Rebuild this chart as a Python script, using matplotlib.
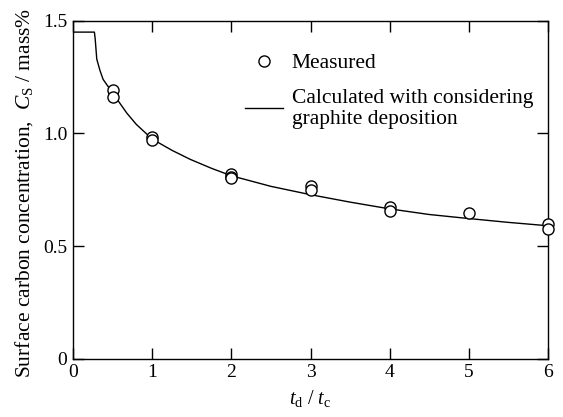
import matplotlib
matplotlib.use("Agg")
import matplotlib.pyplot as plt

plt.rcParams['font.family'] = ['Liberation Serif', 'DejaVu Serif']
plt.rcParams['mathtext.fontset'] = 'custom'
plt.rcParams['mathtext.rm'] = 'Liberation Serif'
plt.rcParams['mathtext.it'] = 'Liberation Serif:italic'

# Measured data (t_d/t_c, C_S mass%)
meas_x = [0.5, 0.5, 1, 1, 2, 2, 2, 3, 3, 4, 4, 5, 6, 6]
meas_y = [1.195, 1.162, 0.985, 0.970, 0.822, 0.807, 0.800, 0.766, 0.751,
          0.672, 0.655, 0.645, 0.600, 0.574]

# Calculated curve
calc_x = [0, 0.27, 0.28, 0.30, 0.34, 0.38, 0.44, 0.5, 0.6, 0.68, 0.8, 1.0,
          1.25, 1.48, 1.75, 2.0, 2.5, 3.0, 3.5, 4.0, 4.5, 5.0, 5.5, 6.0]
calc_y = [1.45, 1.45, 1.42, 1.33, 1.28, 1.24, 1.21, 1.18, 1.13, 1.09, 1.04, 0.975,
          0.925, 0.885, 0.845, 0.812, 0.765, 0.728, 0.695, 0.665, 0.640, 0.622, 0.605, 0.590]

xticks = [0, 1, 2, 3, 4, 5, 6]
yticks = [0, 0.5, 1.0, 1.5]
ytick_labels = ['0', '0.5', '1.0', '1.5']

fig = plt.figure(figsize=(5.63, 4.17), dpi=100)
ax = fig.add_axes([0.1297, 0.140, 0.8437, 0.810])

ax.plot(meas_x, meas_y, 'o', mfc='white', mec='black', ms=8, mew=1.0,
        label='Measured', clip_on=False, zorder=3)
ax.plot(calc_x, calc_y, '-', color='black', lw=1.0,
        label='Calculated with considering\ngraphite deposition', zorder=2)

ax.set_xlim(0, 6)
ax.set_ylim(0, 1.5)
ax.set_xticks(xticks)
ax.set_xticklabels([str(t) for t in xticks])
ax.set_yticks(yticks)
ax.set_yticklabels(ytick_labels)
ax.tick_params(direction='in', length=8, width=1, top=True, right=True,
               labelsize=14, pad=4)
for s in ax.spines.values():
    s.set_linewidth(1)

ax.set_xlabel(r'$t_{\mathrm{d}}$ / $t_{\mathrm{c}}$', fontsize=14.5, labelpad=5)
ax.set_ylabel(r'Surface carbon concentration,  $C_{\mathrm{S}}$ / mass%', fontsize=15.5)
ax.yaxis.set_label_coords(-0.08, 0.49)

leg = ax.legend(frameon=False, loc='upper left', bbox_to_anchor=(0.343, 0.93),
                fontsize=15.5, handlelength=1.8, handletextpad=0.4, labelspacing=0.75,
                borderaxespad=0)
leg.get_texts()[1].set_linespacing(1.1)

fig.savefig('out.png', dpi=100)
